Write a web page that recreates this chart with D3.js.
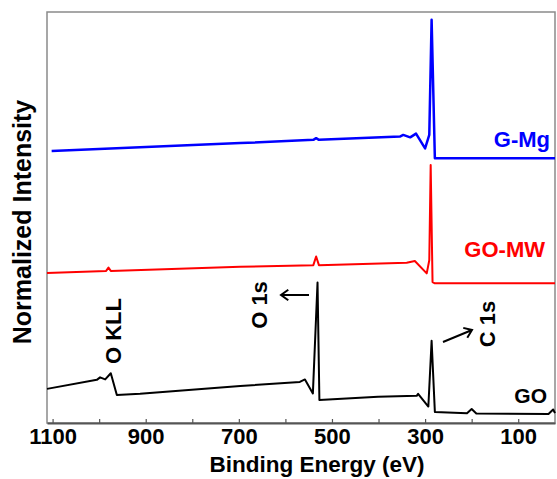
<!DOCTYPE html>
<html>
<head>
<meta charset="utf-8">
<script src="https://cdn.jsdelivr.net/npm/d3@7"></script>
<style>
  body { margin: 0; background: #fff; }
  svg text { font-family: "Liberation Sans", Arial, sans-serif; font-weight: bold; }
</style>
</head>
<body>
<div id="chart"></div>
<script>
// DATA: binding energy (eV) and normalized intensity (offset stacked)
const goEnergy = [1112, 1005, 998, 987, 975, 962, 912, 697, 569, 558, 541, 531, 527, 401, 318, 315, 293, 286, 279, 210, 200, 190, 35, 25, 21];
const goIntensity = [8.3, 10.5, 11.1, 10.6, 12.1, 6.8, 7.1, 9.0, 10.0, 10.6, 7.2, 34.2, 5.6, 6.4, 6.6, 7.1, 4.0, 20.0, 2.7, 2.4, 3.4, 2.3, 2.2, 3.3, 2.4];

const mwEnergy = [1112, 985, 980, 975, 697, 540, 534, 528, 339.5, 322, 296.5, 291, 288, 284, 279, 21];
const mwIntensity = [36.5, 37.0, 37.8, 37.0, 38.0, 38.4, 40.5, 38.4, 39.0, 39.4, 36.4, 39.6, 62.8, 34.3, 34.0, 34.0];

const mgEnergy = [1102, 697, 540, 534, 528, 354, 347, 332, 319.5, 300, 291, 286, 279, 21];
const mgIntensity = [66.2, 68.1, 68.9, 69.3, 68.9, 69.7, 70.1, 69.5, 70.4, 66.8, 70.1, 98.1, 64.4, 64.4];

const xTicks = [1100, 1000, 900, 800, 700, 600, 500, 400, 300, 200, 100];
const xTickLabels = [1100, 900, 700, 500, 300, 100];

const seriesNames = ["GO", "GO-MW", "G-Mg"];
const seriesColors = ["#000000", "#ff0000", "#0000ff"];

// DIMENSIONS
const WIDTH = 557;
const HEIGHT = 479;
const LEFT = 47, RIGHT = 555, TOP = 12, BOTTOM = 423;

const svg = d3.select("#chart").append("svg")
  .attr("width", WIDTH)
  .attr("height", HEIGHT);

const x = d3.scaleLinear().domain([1112, 21]).range([LEFT, RIGHT]);
const y = d3.scaleLinear().domain([0, 100]).range([BOTTOM, TOP]);

// frame
svg.append("rect")
  .attr("x", LEFT).attr("y", TOP)
  .attr("width", RIGHT - LEFT).attr("height", BOTTOM - TOP)
  .attr("fill", "none")
  .attr("stroke", "#8a8a8a")
  .attr("stroke-width", 1.5);

// x axis
const xAxis = d3.axisBottom(x)
  .tickValues(xTicks)
  .tickSizeInner(-4)
  .tickSizeOuter(0)
  .tickPadding(8)
  .tickFormat(d => xTickLabels.includes(d) ? d : "");

const gx = svg.append("g")
  .attr("transform", `translate(0,${BOTTOM})`)
  .call(xAxis);
gx.select(".domain").attr("stroke", "#555").attr("stroke-width", 1.8);
gx.selectAll(".tick line").attr("stroke", "#555").attr("stroke-width", 1.2);
gx.selectAll(".tick text")
  .attr("fill", "#000")
  .style("font-size", "22px")
  .attr("y", 21)
  .attr("dy", 0);

// axis titles
svg.append("text")
  .attr("x", 317)
  .attr("y", 472)
  .attr("text-anchor", "middle")
  .style("font-size", "22.5px")
  .text("Binding Energy (eV)");

svg.append("text")
  .attr("transform", "translate(31,222) rotate(-90)")
  .attr("text-anchor", "middle")
  .style("font-size", "25px")
  .text("Normalized Intensity");

// spectra
const spectra = [
  {energy: goEnergy, intensity: goIntensity},
  {energy: mwEnergy, intensity: mwIntensity},
  {energy: mgEnergy, intensity: mgIntensity}
];

const line = d3.line()
  .x(d => x(d[0]))
  .y(d => y(d[1]));

spectra.forEach((s, i) => {
  svg.append("path")
    .attr("d", line(d3.zip(s.energy, s.intensity)))
    .attr("fill", "none")
    .attr("stroke", seriesColors[i])
    .attr("stroke-width", i === 2 ? 2.5 : 2)
    .attr("stroke-linejoin", "round");
});

// series labels
const seriesLabelPos = [
  {x: 547, y: 403, size: 21},
  {x: 545, y: 257, size: 22},
  {x: 550, y: 147, size: 22}
];
seriesNames.forEach((name, i) => {
  svg.append("text")
    .attr("x", seriesLabelPos[i].x)
    .attr("y", seriesLabelPos[i].y)
    .attr("text-anchor", "end")
    .attr("fill", seriesColors[i])
    .style("font-size", seriesLabelPos[i].size + "px")
    .text(name);
});

// peak annotations
const notes = [
  {text: "O KLL", x: 121, y: 331},
  {text: "O 1s", x: 267, y: 305},
  {text: "C 1s", x: 495, y: 324}
];
notes.forEach(n => {
  svg.append("text")
    .attr("transform", `translate(${n.x},${n.y}) rotate(-90)`)
    .attr("text-anchor", "middle")
    .style("font-size", "22px")
    .text(n.text);
});

// arrows
const drawArrow = (x1, y1, x2, y2) => {
  const a = Math.atan2(y2 - y1, x2 - x1);
  const h = 9, spread = Math.PI / 5;
  svg.append("path")
    .attr("d", `M${x1},${y1}L${x2},${y2}` +
      `M${x2 - h * Math.cos(a - spread)},${y2 - h * Math.sin(a - spread)}L${x2},${y2}` +
      `L${x2 - h * Math.cos(a + spread)},${y2 - h * Math.sin(a + spread)}`)
    .attr("fill", "none")
    .attr("stroke", "#000")
    .attr("stroke-width", 2);
};
drawArrow(309, 295, 281, 295);
drawArrow(443, 342, 472, 330);
</script>
</body>
</html>
